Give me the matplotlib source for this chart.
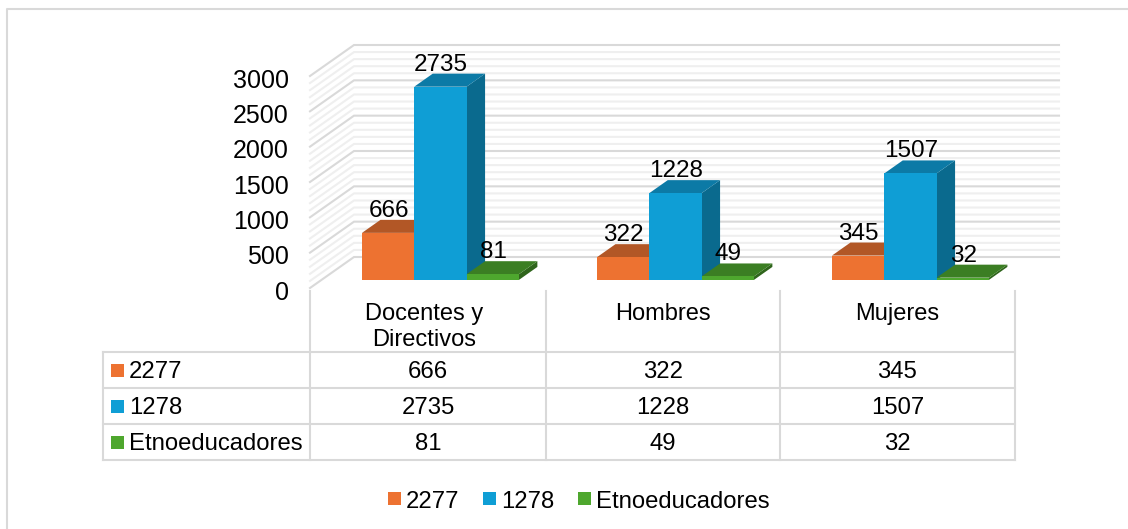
import matplotlib
matplotlib.use("Agg")
import matplotlib.pyplot as plt
from matplotlib.patches import Polygon, Rectangle

CATEGORIES = ["Docentes y\nDirectivos", "Hombres", "Mujeres"]
SERIES_NAMES = ["2277", "1278", "Etnoeducadores"]
VALUES_2277 = [666, 322, 345]
VALUES_1278 = [2735, 1228, 1507]
VALUES_ETNO = [81, 49, 32]
Y_TICKS = [0, 500, 1000, 1500, 2000, 2500, 3000]
MINOR_TICKS = [v for v in range(0, 3001, 100) if v % 500]

FRONT = ["#ED7231", "#0F9ED5", "#4EA72E"]
TOP = ["#B25726", "#0C7AA6", "#3B7E23"]
SIDE = ["#9A4B20", "#0A6A8E", "#2F651C"]
GRID = "#D9D9D9"
GRID_LIGHT = "#EFEFEF"
INK = "#000000"
W, H = 1128, 529

plt.rcParams["font.family"] = ["Liberation Sans", "DejaVu Sans"]

fig = plt.figure(figsize=(W / 100, H / 100), dpi=100, facecolor="white")

# pixel layer for the frame, table and legend
px = fig.add_axes([0, 0, 1, 1])
px.set_xlim(0, W)
px.set_ylim(H, 0)
px.axis("off")

# front plane of the chart: x in categories, y in values
ax = fig.add_axes([310 / W, (H - 288) / H, 705 / W, 212 / H])
ax.set_xlim(0, 3)
ax.set_ylim(0, 3000)
ax.axis("off")

DEPTH_X = 44 / 235
DEPTH_Y = 31 / (212 / 3000)
BAR_W = 52.3 / 235
BAR_SHIFT = 1.5 / 235
D_FRONT, D_BACK = 0.26, 0.68


def sheared(x, v, d):
  return (x + d * DEPTH_X, v + d * DEPTH_Y)


for v in MINOR_TICKS + Y_TICKS:
  major = v in Y_TICKS
  color = GRID if major else GRID_LIGHT
  zorder = 2 if major else 1
  ax.plot(*zip(sheared(0, v, 0), sheared(0, v, 1), sheared(3, v, 1)), color=color,
          lw=1.5, zorder=zorder, clip_on=False, solid_joinstyle="miter")

for i, values in enumerate([VALUES_2277, VALUES_1278, VALUES_ETNO]):
  for c, v in enumerate(values):
    x0 = c + 0.5 + (i - 1.5) * BAR_W + BAR_SHIFT
    x1 = x0 + BAR_W
    z = 5 + i
    ax.add_patch(Polygon([sheared(x1, 0, D_FRONT), sheared(x1, 0, D_BACK),
                          sheared(x1, v, D_BACK), sheared(x1, v, D_FRONT)],
                         fc=SIDE[i], ec="none", zorder=z, clip_on=False))
    ax.add_patch(Polygon([sheared(x0, v, D_FRONT), sheared(x1, v, D_FRONT),
                          sheared(x1, v, D_BACK), sheared(x0, v, D_BACK)],
                         fc=TOP[i], ec="none", zorder=z, clip_on=False))
    ax.add_patch(Polygon([sheared(x0, 0, D_FRONT), sheared(x1, 0, D_FRONT),
                          sheared(x1, v, D_FRONT), sheared(x0, v, D_FRONT)],
                         fc=FRONT[i], ec="none", zorder=z, clip_on=False))
    lx, ly = sheared(x0 + BAR_W / 2, v, D_BACK)
    ax.annotate(str(v), (lx, ly), xytext=(-18 * 0.72, -2 * 0.72), textcoords="offset points",
                ha="center", va="bottom", fontsize=17.5, color=INK, zorder=20,
                annotation_clip=False)

for v in Y_TICKS:
  ax.annotate(str(v), (0, v), xytext=(-21 * 0.72, -4.5 * 0.72), textcoords="offset points",
              ha="right", va="center", fontsize=18, color=INK, annotation_clip=False)

# outer frame
px.plot([7, 7, W], [H, 9, 9], color=GRID, lw=1.5)

# table
COLS = [310, 546, 780, 1015]
ROWS = [352, 388, 424, 460]
for x in COLS:
  px.plot([x, x], [291, ROWS[-1]], color=GRID, lw=1.5)
px.plot([103, 103], [ROWS[0], ROWS[-1]], color=GRID, lw=1.5)
for y in ROWS:
  px.plot([103, COLS[-1]], [y, y], color=GRID, lw=1.5)

for c, name in enumerate(CATEGORIES):
  shift = -4 if "\n" in name else -0.5
  px.text((COLS[c] + COLS[c + 1]) / 2 + shift, 303, name, ha="center", va="top", fontsize=17,
          color=INK, linespacing=1.26)

for r, values in enumerate([VALUES_2277, VALUES_1278, VALUES_ETNO]):
  cy = (ROWS[r] + ROWS[r + 1]) / 2
  px.add_patch(Rectangle((111, cy - 6.5), 13, 13, fc=FRONT[r], ec="none"))
  px.text(129, cy - 1, SERIES_NAMES[r], ha="left", va="center_baseline", fontsize=17.2, color=INK)
  for c, v in enumerate(values):
    px.text((COLS[c] + COLS[c + 1]) / 2, cy - 1, str(v), ha="center", va="center_baseline",
            fontsize=17.2, color=INK)

# legend
for name, color, sx in zip(SERIES_NAMES, FRONT, [388, 483, 578]):
  px.add_patch(Rectangle((sx, 492), 13, 13, fc=color, ec="none"))
  px.text(sx + 18, 499, name, ha="left", va="center_baseline", fontsize=17.2, color=INK)

fig.savefig("out.png", dpi=100, facecolor="white")
